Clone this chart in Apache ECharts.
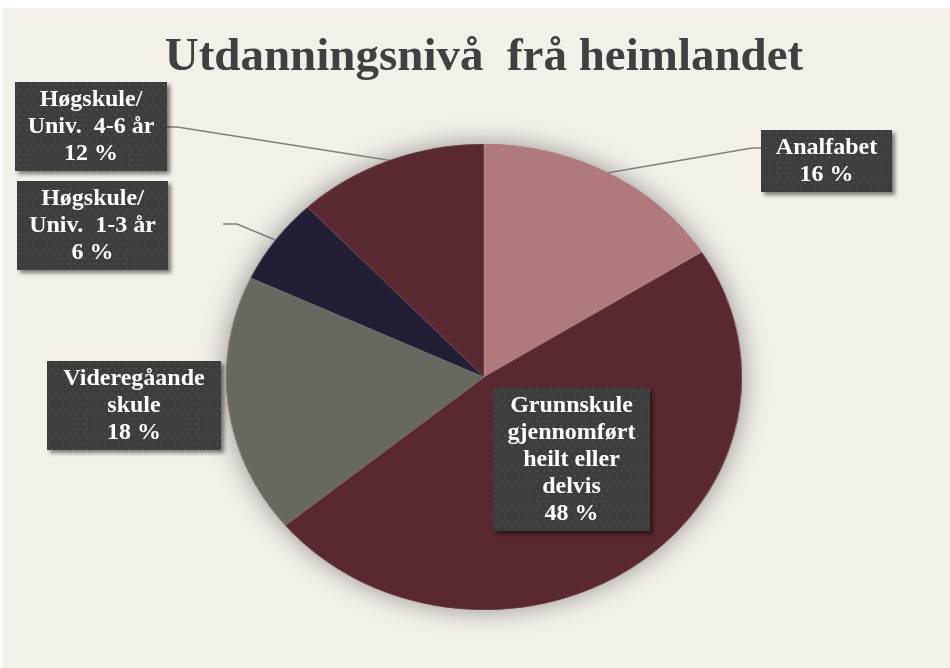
<!DOCTYPE html>
<html>
<head>
<meta charset="utf-8">
<script src="https://cdn.jsdelivr.net/npm/echarts@6/dist/echarts.min.js"></script>
<style>
  html, body { margin: 0; padding: 0; background: #ffffff; }
  #wrap { position: relative; width: 950px; height: 668px; overflow: hidden; }
  #bg { position: absolute; left: 3px; top: 8px; right: 0; bottom: 0; background: #f3f0ea; }
  /* pie drawn as a circle, then stretched sideways to the oval of the original */
  #pie { position: absolute; left: 0; top: 0; width: 950px; height: 668px;
         transform: scaleX(1.107); transform-origin: 484px 377px; }
  #labels { position: absolute; left: 0; top: 0; width: 950px; height: 668px; }
</style>
</head>
<body>
<div id="wrap">
  <div id="bg"></div>
  <div id="pie"></div>
  <div id="labels"></div>
</div>
<script>
// data
var categories = [
  "Analfabet",
  "Grunnskule\ngjennomført\nheilt eller\ndelvis",
  "Videregåande\nskule",
  "Høgskule/\nUniv.  1-3 år",
  "Høgskule/\nUniv.  4-6 år"
];
var values = [16, 48, 18, 6, 12];
var colors = ["#b0797c", "#5a2830", "#67685f", "#221e36", "#5a2931"];

// label boxes: top-left corner and size
var boxPos = [[761, 130], [493, 388], [47, 361], [17, 181], [15, 82]];
var boxW = [131, 157, 174, 151, 152];
// leader line end [x, y] and elbow length (null = no line)
var lineEnd = [[761, 148, 9], null, null, [223, 224, 14], [167, 127, 10]];

var cx = 484, cy = 377, ry = 233, rx = 258;
var SH = 7; // room for the box shadow
var total = values.reduce(function (a, b) { return a + b; }, 0);

function midPoint(i) {
  var before = 0;
  for (var k = 0; k < i; k++) before += values[k];
  var a = (before + values[i] / 2) / total * Math.PI * 2;
  return [cx + rx * Math.sin(a), cy - ry * Math.cos(a)];
}

// dotted dark box with its drop shadow, used as label background
function texture(w, h) {
  var c = document.createElement("canvas");
  c.width = w + SH; c.height = h + SH;
  var g = c.getContext("2d");
  g.shadowColor = "rgba(0,0,0,0.5)";
  g.shadowBlur = 4;
  g.shadowOffsetX = 3;
  g.shadowOffsetY = 3;
  g.fillStyle = "#3d3d3d";
  g.fillRect(0, 0, w, h);
  g.shadowColor = "rgba(0,0,0,0)";
  g.fillStyle = "#4a4a4a";
  for (var y = 2, row = 0; y < h - 1; y += 5, row++) {
    for (var x = (row % 2) ? 4 : 1; x < w - 1; x += 7) {
      g.fillRect(x, y, 2, 2);
    }
  }
  return c;
}

var pieData = [];
var labelData = [];
for (var i = 0; i < values.length; i++) {
  var lines = categories[i].split("\n").length + 1;
  pieData.push({ name: categories[i], value: values[i], itemStyle: { color: colors[i] } });
  labelData.push({
    name: categories[i],
    value: values[i],
    label: { width: boxW[i], backgroundColor: { image: texture(boxW[i], lines * 27 + 8) } },
    labelLine: { show: lineEnd[i] != null }
  });
}

var pieChart = echarts.init(document.getElementById("pie"));
pieChart.setOption({
  animation: false,
  series: [
    {
      // shadow under the whole pie
      type: "pie",
      center: [cx, cy],
      radius: ry,
      silent: true,
      label: { show: false },
      labelLine: { show: false },
      itemStyle: {
        color: "#5a2830",
        shadowBlur: 26,
        shadowColor: "rgba(0,0,0,0.4)"
      },
      data: [{ value: 1 }]
    },
    {
      type: "pie",
      center: [cx, cy],
      radius: ry,
      startAngle: 90,
      clockwise: true,
      silent: true,
      label: { show: false },
      labelLine: { show: false },
      itemStyle: { borderWidth: 0.6, borderColor: "rgba(255,255,255,0.25)" },
      data: pieData
    }
  ]
});

var labelChart = echarts.init(document.getElementById("labels"));
labelChart.setOption({
  animation: false,
  title: {
    text: "Utdanningsnivå  frå heimlandet",
    left: 479,
    textAlign: "center",
    top: 29,
    textStyle: {
      fontFamily: "Liberation Serif",
      fontSize: 47,
      fontWeight: "bold",
      color: "#404040"
    }
  },
  series: [
    {
      type: "pie",
      center: [cx, cy],
      radius: ry,
      startAngle: 90,
      clockwise: true,
      silent: true,
      avoidLabelOverlap: false,
      itemStyle: { color: "rgba(0,0,0,0)" },
      label: {
        show: true,
        position: "outside",
        formatter: function (p) { return p.name + "\n" + p.value + " %"; },
        color: "#ffffff",
        fontFamily: "Liberation Serif",
        fontWeight: "bold",
        fontSize: 24,
        lineHeight: 27,
        align: "center",
        padding: [4, SH, 4 + SH, 0]
      },
      labelLine: {
        lineStyle: { color: "#7f7f7f", width: 1.5 }
      },
      labelLayout: function (p) {
        var i = p.dataIndex;
        var out = {
          x: boxPos[i][0] + (boxW[i] + SH) / 2,
          y: boxPos[i][1],
          align: "center",
          verticalAlign: "top"
        };
        if (lineEnd[i]) {
          var e = lineEnd[i];
          var dir = e[0] > cx ? -1 : 1;
          out.labelLinePoints = [midPoint(i), [e[0] + dir * e[2], e[1]], [e[0], e[1]]];
        }
        return out;
      },
      data: labelData
    }
  ]
});
</script>
</body>
</html>
